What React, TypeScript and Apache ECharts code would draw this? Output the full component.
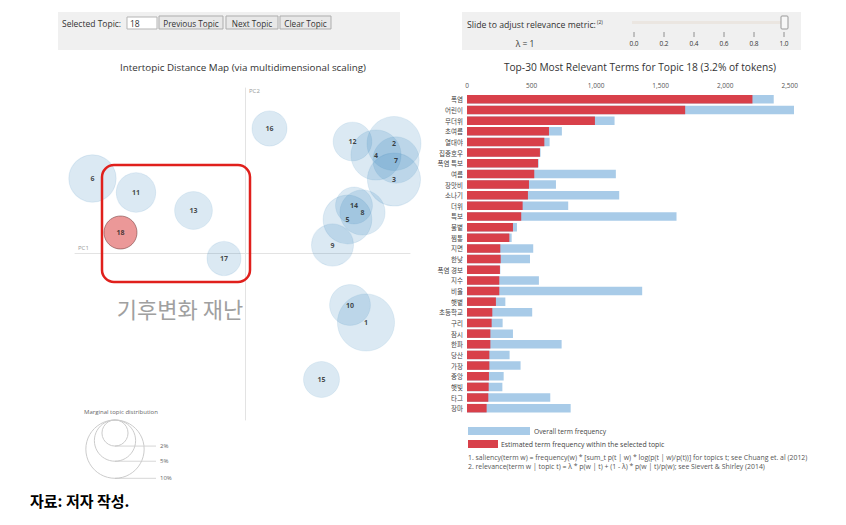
import React, { useEffect, useRef } from "react";
import * as echarts from "echarts";

// ---- Data ----
const topicIds = ["1","2","3","4","5","6","7","8","9","10","11","12","13","14","15","16","17","18"];
const topicPC1 = [0.242,0.298,0.298,0.262,0.205,-0.305,0.302,0.235,0.175,0.21,-0.218,0.215,-0.103,0.218,0.153,0.049,-0.042,-0.249];
const topicPC2 = [-0.139,0.219,0.147,0.196,0.067,0.149,0.186,0.081,0.016,-0.104,0.121,0.223,0.085,0.095,-0.253,0.249,-0.011,0.041];
const topicShare = [9.6,8.6,8.3,7.4,7.0,6.6,6.3,6.0,5.2,4.9,4.6,4.4,4.2,4.0,3.8,3.6,3.4,3.2];
const selectedTopic = "18";
const legendShares = [2, 5, 10];

const terms = ["폭염","어린이","무더위","초여름","열대야","집중호우","폭염 특보","여름","장맛비","소나기","더위","특보","불볕","찜통","지면","한낮","폭염 경보","지수","비율","햇볕","초등학교","구리","잠시","한파","당산","가장","중앙","햇빛","타그","장마"];
const overallFreq = [2376,2533,1143,735,640,570,555,1153,689,1179,784,1623,387,346,513,488,258,557,1357,297,505,276,356,733,330,415,284,274,645,803];
const topicFreq = [2211,1690,991,635,599,565,550,521,480,472,431,420,356,328,258,261,255,250,250,224,196,191,181,181,173,173,170,168,165,152];
const freqTicks = [0,500,1000,1500,2000,2500];
const lambdaTicks = ["0.0","0.2","0.4","0.6","0.8","1.0"];

const K = 9.22; // px radius per sqrt(%)
const FONT = "'Open Sans', 'Noto Sans CJK KR', sans-serif";

export default function App() {
  const ref = useRef<HTMLDivElement>(null);
  useEffect(() => {
    if (!ref.current) return;
    const chart = echarts.init(ref.current, undefined, { renderer: "svg" });

    const all = topicIds.map((id, i) => ({ name: id, value: [topicPC1[i], topicPC2[i], topicShare[i]] }));
    const others = all.filter((d) => d.name !== selectedTopic);
    const sel = all.filter((d) => d.name === selectedTopic);

    const graphics: any[] = [];
    // left control panel
    graphics.push({ type: "rect", shape: { x: 58, y: 12, width: 342, height: 38 }, style: { fill: "#f0f0f0" } });
    graphics.push({ type: "text", x: 62, y: 23, style: { text: "Selected Topic:", fontSize: 8.5, fill: "#333", fontFamily: FONT, verticalAlign: "middle" } });
    graphics.push({ type: "rect", shape: { x: 127, y: 17, width: 30, height: 12 }, style: { fill: "#fff", stroke: "#b5b5b5", lineWidth: 1 } });
    graphics.push({ type: "text", x: 130, y: 23, style: { text: selectedTopic, fontSize: 8.5, fill: "#333", fontFamily: FONT, verticalAlign: "middle" } });
    const buttons = [["Previous Topic", 159, 64], ["Next Topic", 226, 52], ["Clear Topic", 280, 51]] as const;
    buttons.forEach(([t, x, w]) => {
      graphics.push({ type: "rect", shape: { x, y: 16, width: w, height: 13 }, style: { fill: "#e8e8e8", stroke: "#adadad", lineWidth: 1 } });
      graphics.push({ type: "text", x: x + w / 2, y: 23, style: { text: t, fontSize: 8.2, fill: "#333", fontFamily: FONT, align: "center", verticalAlign: "middle" } });
    });
    // right control panel
    graphics.push({ type: "rect", shape: { x: 462, y: 12, width: 339, height: 38 }, style: { fill: "#f0f0f0" } });
    graphics.push({ type: "text", x: 467, y: 25, style: { text: "Slide to adjust relevance metric:", fontSize: 8.7, fill: "#333", fontFamily: FONT, verticalAlign: "middle" } });
    graphics.push({ type: "text", x: 597, y: 22, style: { text: "(2)", fontSize: 5, fill: "#333", fontFamily: FONT, verticalAlign: "middle" } });
    graphics.push({ type: "text", x: 525, y: 43, style: { text: "λ = 1", fontSize: 8.5, fill: "#333", fontFamily: FONT, align: "center", verticalAlign: "middle" } });
    graphics.push({ type: "rect", shape: { x: 632, y: 21, width: 154, height: 3 }, style: { fill: "#ebe6e1" } });
    lambdaTicks.forEach((t, i) => {
      const x = 634 + i * 30;
      graphics.push({ type: "line", shape: { x1: x, y1: 32, x2: x, y2: 37 }, style: { stroke: "#777", lineWidth: 0.8 } });
      graphics.push({ type: "text", x, y: 43, style: { text: t, fontSize: 6.5, fill: "#333", fontFamily: FONT, align: "center", verticalAlign: "middle" } });
    });
    graphics.push({ type: "rect", shape: { x: 781, y: 16, width: 7, height: 13, r: 1 }, style: { fill: "#f7f7f7", stroke: "#999", lineWidth: 1 } });

    // titles
    graphics.push({ type: "text", x: 243, y: 67, style: { text: "Intertopic Distance Map (via multidimensional scaling)", fontSize: 9.8, fill: "#333", fontFamily: FONT, align: "center", verticalAlign: "middle" } });
    graphics.push({ type: "text", x: 640, y: 67, style: { text: "Top-30 Most Relevant Terms for Topic 18 (3.2% of tokens)", fontSize: 10.2, fill: "#333", fontFamily: FONT, align: "center", verticalAlign: "middle" } });

    // axis labels
    graphics.push({ type: "text", x: 249, y: 91, style: { text: "PC2", fontSize: 6, fill: "#999", fontFamily: FONT, verticalAlign: "middle" } });
    graphics.push({ type: "text", x: 78, y: 248, style: { text: "PC1", fontSize: 6, fill: "#999", fontFamily: FONT, verticalAlign: "middle" } });

    // highlight box and annotation
    graphics.push({ type: "rect", z: 10, shape: { x: 102, y: 165, width: 148, height: 117, r: 12 }, style: { fill: "none", stroke: "#e0201c", lineWidth: 2.5 } });
    graphics.push({ type: "text", x: 180, y: 308, style: { text: "기후변화 재난", fontSize: 22, fill: "#a0a0a0", fontFamily: "'Noto Sans CJK KR', sans-serif", align: "center", verticalAlign: "middle" } });

    // marginal topic distribution legend
    graphics.push({ type: "text", x: 84, y: 412, style: { text: "Marginal topic distribution", fontSize: 6, fill: "#666", fontFamily: FONT, verticalAlign: "middle" } });
    legendShares.forEach((p) => {
      const r = K * Math.sqrt(p);
      const cy = 420 + r;
      graphics.push({ type: "circle", shape: { cx: 115, cy, r }, style: { fill: "none", stroke: "#ccc", lineWidth: 1 } });
      graphics.push({ type: "line", shape: { x1: 115, y1: cy + r, x2: 156, y2: cy + r }, style: { stroke: "#bbb", lineWidth: 0.6 } });
      graphics.push({ type: "text", x: 160, y: cy + r, style: { text: p + "%", fontSize: 6, fill: "#666", fontFamily: FONT, verticalAlign: "middle" } });
    });

    // bar legend
    graphics.push({ type: "rect", shape: { x: 468, y: 427, width: 62, height: 8 }, style: { fill: "#a8cbe8" } });
    graphics.push({ type: "text", x: 534, y: 431, style: { text: "Overall term frequency", fontSize: 6.7, fill: "#444", fontFamily: FONT, verticalAlign: "middle" } });
    graphics.push({ type: "rect", shape: { x: 468, y: 440, width: 30, height: 8 }, style: { fill: "#d8404a" } });
    graphics.push({ type: "text", x: 501, y: 444, style: { text: "Estimated term frequency within the selected topic", fontSize: 6.9, fill: "#444", fontFamily: FONT, verticalAlign: "middle" } });
    graphics.push({ type: "text", x: 468, y: 457, style: { text: "1. saliency(term w) = frequency(w) * [sum_t p(t | w) * log(p(t | w)/p(t))] for topics t; see Chuang et. al (2012)", fontSize: 6.9, fill: "#555", fontFamily: FONT, verticalAlign: "middle" } });
    graphics.push({ type: "text", x: 468, y: 466, style: { text: "2. relevance(term w | topic t) = λ * p(w | t) + (1 - λ) * p(w | t)/p(w); see Sievert & Shirley (2014)", fontSize: 6.9, fill: "#555", fontFamily: FONT, verticalAlign: "middle" } });

    // source
    graphics.push({ type: "text", x: 30, y: 500, style: { text: "자료: 저자 작성.", fontSize: 15, fontWeight: "bold", fill: "#000", fontFamily: "'Noto Sans CJK KR', sans-serif", verticalAlign: "middle" } });

    const scatterBase = {
      type: "scatter",
      xAxisIndex: 0,
      yAxisIndex: 0,
      silent: true,
      symbolSize: (v: number[]) => 2 * K * Math.sqrt(v[2]),
      label: {
        show: true,
        position: "inside",
        formatter: "{b}",
        fontSize: 7,
        fontWeight: "bold",
        color: "#1a1a1a",
        fontFamily: FONT,
      },
    };

    chart.setOption({
      animation: false,
      textStyle: { fontFamily: FONT },
      grid: [
        { left: 75, top: 88, width: 335, height: 332 },
        { left: 467, top: 94, width: 327, height: 319.5 },
      ],
      xAxis: [
        {
          type: "value", gridIndex: 0, min: -0.34, max: 0.33,
          axisLine: { show: true, onZero: true, lineStyle: { color: "#e3e3e3", width: 1 } },
          axisTick: { show: false }, axisLabel: { show: false }, splitLine: { show: false },
        },
        {
          type: "value", gridIndex: 1, min: 0, max: 2533, interval: 500, position: "top",
          axisLine: { show: false }, axisTick: { show: false }, splitLine: { show: false },
          axisLabel: {
            fontSize: 6.5, color: "#555", margin: 5, showMaxLabel: false,
            formatter: (v: number) => (freqTicks.includes(v) ? v.toLocaleString("en-US") : ""),
          },
        },
      ],
      yAxis: [
        {
          type: "value", gridIndex: 0, min: -0.334, max: 0.33,
          axisLine: { show: true, onZero: true, lineStyle: { color: "#e3e3e3", width: 1 } },
          axisTick: { show: false }, axisLabel: { show: false }, splitLine: { show: false },
        },
        {
          type: "category", gridIndex: 1, data: terms, inverse: true,
          axisLine: { show: false }, axisTick: { show: false },
          axisLabel: { fontSize: 6.5, color: "#444", margin: 4, fontFamily: "'Noto Sans CJK KR', sans-serif" },
        },
      ],
      series: [
        {
          ...scatterBase,
          data: others,
          itemStyle: { color: "rgba(31,119,180,0.2)", borderColor: "rgba(31,119,180,0.12)", borderWidth: 1 },
        },
        {
          ...scatterBase,
          data: sel,
          itemStyle: { color: "rgba(214,39,40,0.6)", borderColor: "rgba(90,40,40,0.6)", borderWidth: 1 },
        },
        {
          type: "bar", xAxisIndex: 1, yAxisIndex: 1, data: overallFreq, barWidth: 8.5, barGap: "-100%",
          itemStyle: { color: "#a8cbe8" }, silent: true,
        },
        {
          type: "bar", xAxisIndex: 1, yAxisIndex: 1, data: topicFreq, barWidth: 8.5, barGap: "-100%",
          itemStyle: { color: "#d8404a" }, silent: true,
        },
      ],
      graphic: graphics,
    });
    return () => chart.dispose();
  }, []);
  return <div ref={ref} style={{ position: "absolute", left: 0, top: 0, width: 846, height: 525, background: "#fff" }} />;
}
